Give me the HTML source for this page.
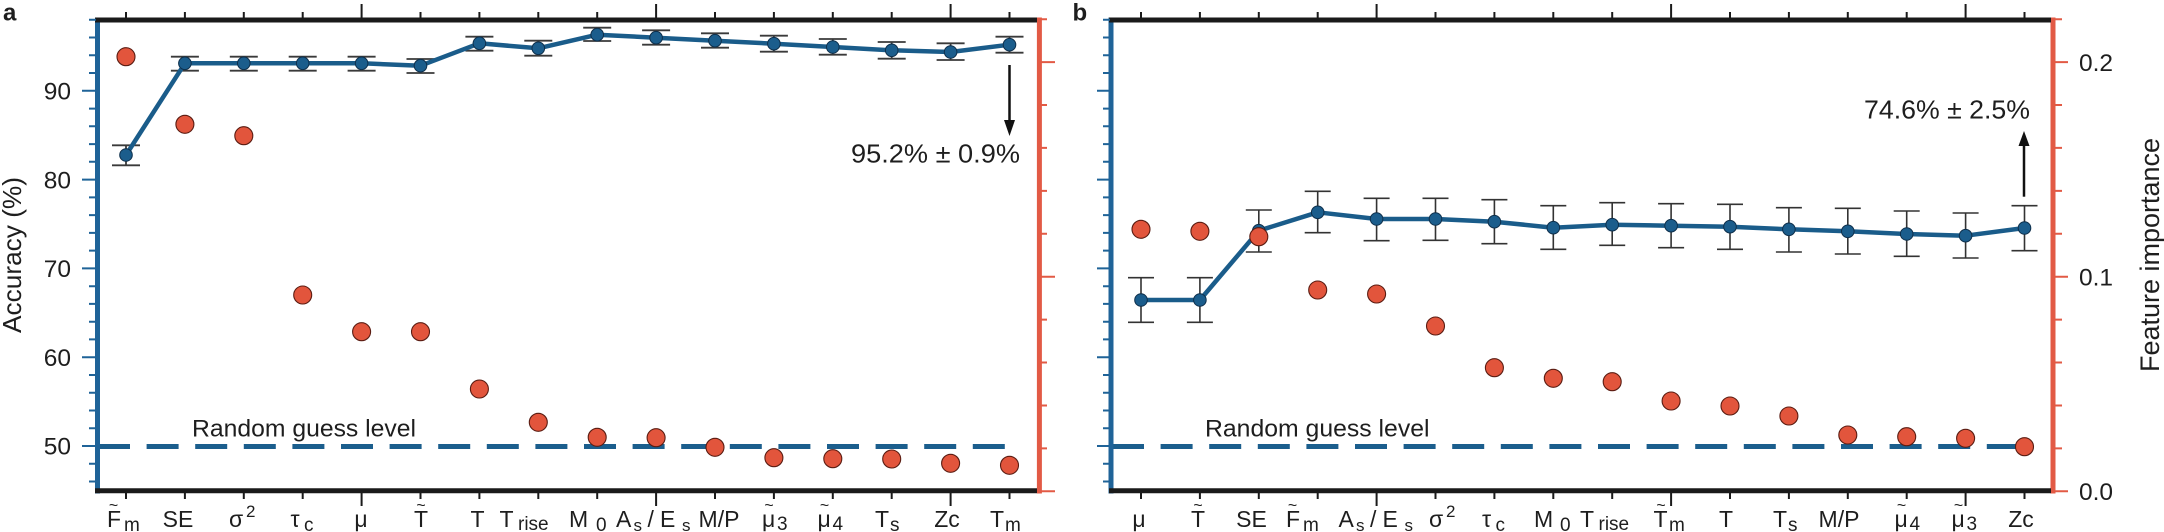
<!DOCTYPE html>
<html>
<head>
<meta charset="utf-8">
<style>
html,body{margin:0;padding:0;background:#fff;}
svg{display:block;}
text{font-family:"Liberation Sans",Arial,sans-serif;fill:#1e1e1e;}
</style>
</head>
<body>
<svg width="2164" height="532" viewBox="0 0 2164 532" xmlns="http://www.w3.org/2000/svg">
<rect width="2164" height="532" fill="#fff"/>

<!-- ================= PANEL A ================= -->
<text x="3" y="20.5" font-size="24" font-weight="bold">a</text>

<line x1="98" y1="446.5" x2="1006" y2="446.5" stroke="#1b5e8d" stroke-width="5" stroke-dasharray="32 16.6"/>
<text x="192" y="436.5" font-size="24" textLength="224" lengthAdjust="spacingAndGlyphs">Random guess level</text>

<line x1="97.5" y1="17.5" x2="97.5" y2="493.5" stroke="#1f6398" stroke-width="5"/>
<line x1="1039.4" y1="17.5" x2="1039.4" y2="493.5" stroke="#e25a45" stroke-width="5"/>
<line x1="95" y1="20" x2="1037" y2="20" stroke="#1a1a1a" stroke-width="5"/>
<line x1="95" y1="490.8" x2="1037" y2="490.8" stroke="#1a1a1a" stroke-width="5"/>

<path stroke="#1f6398" stroke-width="2" fill="none" d="
M89 481.5H96 M89 463.8H96 M82 446H96 M89 428.2H96 M89 410.5H96 M89 392.7H96 M89 375H96
M82 357.2H96 M89 339.4H96 M89 321.7H96 M89 303.9H96 M89 286.2H96 M82 268.4H96 M89 250.6H96
M89 232.9H96 M89 215.1H96 M89 197.4H96 M82 179.6H96 M89 161.8H96 M89 144.1H96 M89 126.3H96
M89 108.6H96 M82 90.8H96 M89 73H96 M89 55.3H96 M89 37.5H96 M89 19.8H96"/>
<path stroke="#e25a45" stroke-width="2" fill="none" d="
M1041 491.3H1055 M1041 448.4H1047 M1041 405.5H1047 M1041 362.5H1047 M1041 319.6H1047
M1041 276.7H1055 M1041 233.8H1047 M1041 190.9H1047 M1041 147.9H1047 M1041 105H1047
M1041 62.1H1055 M1041 19.2H1047"/>
<path stroke="#1a1a1a" stroke-width="2" fill="none" d="
M126 18V12 M184.9 18V12 M243.8 18V12 M302.7 18V12 M361.6 18V4 M420.5 18V12 M479.4 18V12
M538.3 18V12 M597.2 18V12 M656.1 18V4 M715 18V12 M773.9 18V12 M832.8 18V12 M891.7 18V12
M950.6 18V4 M1009.5 18V12"/>
<path stroke="#1a1a1a" stroke-width="2" fill="none" d="
M126 493V499 M184.9 493V499 M243.8 493V499 M302.7 493V499 M361.6 493V506 M420.5 493V499 M479.4 493V499
M538.3 493V499 M597.2 493V499 M656.1 493V506 M715 493V499 M773.9 493V499 M832.8 493V499 M891.7 493V499
M950.6 493V506 M1009.5 493V499"/>

<g font-size="24.5" text-anchor="end">
<text x="71" y="99.5">90</text>
<text x="71" y="188.3">80</text>
<text x="71" y="277.1">70</text>
<text x="71" y="365.9">60</text>
<text x="71" y="454.7">50</text>
</g>
<text transform="translate(21,255) rotate(-90)" font-size="26" text-anchor="middle" textLength="156" lengthAdjust="spacingAndGlyphs">Accuracy (%)</text>

<g stroke="#3a3a3a" stroke-width="1.8" fill="none">
<path d="M126 145.3V165.3 M112 145.3H140 M112 165.3H140"/>
<path d="M184.9 56.7V70.7 M170.9 56.7H198.9 M170.9 70.7H198.9"/>
<path d="M243.8 56.7V70.7 M229.8 56.7H257.8 M229.8 70.7H257.8"/>
<path d="M302.7 56.7V70.7 M288.7 56.7H316.7 M288.7 70.7H316.7"/>
<path d="M361.6 56.7V70.7 M347.6 56.7H375.6 M347.6 70.7H375.6"/>
<path d="M420.5 59V73 M406.5 59H434.5 M406.5 73H434.5"/>
<path d="M479.4 36.7V50.7 M465.4 36.7H493.4 M465.4 50.7H493.4"/>
<path d="M538.3 40.7V55.7 M524.3 40.7H552.3 M524.3 55.7H552.3"/>
<path d="M597.2 27.7V41 M583.2 27.7H611.2 M583.2 41H611.2"/>
<path d="M656.1 30.3V44.7 M642.1 30.3H670.1 M642.1 44.7H670.1"/>
<path d="M715 33.3V47.7 M701 33.3H729 M701 47.7H729"/>
<path d="M773.9 35.7V51.7 M759.9 35.7H787.9 M759.9 51.7H787.9"/>
<path d="M832.8 39V54.7 M818.8 39H846.8 M818.8 54.7H846.8"/>
<path d="M891.7 42V58.7 M877.7 42H905.7 M877.7 58.7H905.7"/>
<path d="M950.6 43.3V60 M936.6 43.3H964.6 M936.6 60H964.6"/>
<path d="M1009.5 36.7V52.7 M995.5 36.7H1023.5 M995.5 52.7H1023.5"/>
</g>

<polyline fill="none" stroke="#1a5c8a" stroke-width="4.5" stroke-linejoin="round" points="126,155 184.9,63.3 243.8,63.3 302.7,63.3 361.6,63.3 420.5,65.7 479.4,43.3 538.3,48.3 597.2,34.7 656.1,37.7 715,40.7 773.9,43.7 832.8,47 891.7,50.3 950.6,52 1009.5,44.7"/>
<g fill="#1b5d8c" stroke="#0e2f4b" stroke-width="1">
<circle cx="126" cy="155" r="6.3"/><circle cx="184.9" cy="63.3" r="6.3"/><circle cx="243.8" cy="63.3" r="6.3"/>
<circle cx="302.7" cy="63.3" r="6.3"/><circle cx="361.6" cy="63.3" r="6.3"/><circle cx="420.5" cy="65.7" r="6.3"/>
<circle cx="479.4" cy="43.3" r="6.3"/><circle cx="538.3" cy="48.3" r="6.3"/><circle cx="597.2" cy="34.7" r="6.3"/>
<circle cx="656.1" cy="37.7" r="6.3"/><circle cx="715" cy="40.7" r="6.3"/><circle cx="773.9" cy="43.7" r="6.3"/>
<circle cx="832.8" cy="47" r="6.3"/><circle cx="891.7" cy="50.3" r="6.3"/><circle cx="950.6" cy="52" r="6.3"/>
<circle cx="1009.5" cy="44.7" r="6.3"/>
</g>

<g fill="#e2553c" stroke="#5a1c12" stroke-width="1.1">
<circle cx="126" cy="56.7" r="9"/><circle cx="184.9" cy="124.3" r="9"/><circle cx="243.8" cy="135.7" r="9"/>
<circle cx="302.7" cy="295" r="9"/><circle cx="361.6" cy="331.7" r="9"/><circle cx="420.5" cy="331.7" r="9"/>
<circle cx="479.4" cy="389" r="9"/><circle cx="538.3" cy="422.3" r="9"/><circle cx="597.2" cy="437.3" r="9"/>
<circle cx="656.1" cy="437.7" r="9"/><circle cx="715" cy="447.3" r="9"/><circle cx="773.9" cy="457.7" r="9"/>
<circle cx="832.8" cy="458.7" r="9"/><circle cx="891.7" cy="459" r="9"/><circle cx="950.6" cy="463.3" r="9"/>
<circle cx="1009.5" cy="465.3" r="9"/>
</g>

<line x1="1009.5" y1="65" x2="1009.5" y2="122" stroke="#111" stroke-width="2.5"/>
<polygon points="1004,120 1015,120 1009.5,136" fill="#111"/>
<text x="851" y="162.5" font-size="26" textLength="169" lengthAdjust="spacingAndGlyphs">95.2% ± 0.9%</text>

<g font-size="23">
<text x="107" y="527">F</text><text x="124" y="531" font-size="19">m</text><text x="113.5" y="510.5" font-size="16" text-anchor="middle">~</text>
<text x="178" y="527" text-anchor="middle">SE</text>
<text x="229" y="527">σ</text><text x="246" y="517" font-size="17">2</text>
<text x="290.5" y="527">τ</text><text x="304" y="531" font-size="19">c</text>
<text x="361" y="527" text-anchor="middle">μ</text>
<text x="421" y="527" text-anchor="middle">T</text><text x="421" y="510.5" font-size="16" text-anchor="middle">~</text>
<text x="477.5" y="527" text-anchor="middle">T</text>
<text x="499.5" y="527">T</text><text x="518" y="530" font-size="19">rise</text>
<text x="569" y="527">M</text><text x="596" y="531" font-size="19">0</text>
<text x="616" y="527">A</text><text x="633.5" y="531" font-size="17">s</text><text x="647.5" y="527">/</text><text x="660" y="527">E</text><text x="682" y="531" font-size="17">s</text>
<text x="719" y="527" text-anchor="middle">M/P</text>
<text x="762" y="527">μ</text><text x="777" y="530" font-size="19">3</text><text x="769" y="510.5" font-size="16" text-anchor="middle">~</text>
<text x="817.5" y="527">μ</text><text x="832.5" y="530" font-size="19">4</text><text x="824.5" y="510.5" font-size="16" text-anchor="middle">~</text>
<text x="875" y="527">T</text><text x="890" y="531" font-size="19">s</text>
<text x="947" y="527" text-anchor="middle">Zc</text>
<text x="990" y="527">T</text><text x="1005" y="531" font-size="19">m</text>
</g>

<!-- ================= PANEL B ================= -->
<text x="1072.5" y="20.5" font-size="24" font-weight="bold">b</text>

<line x1="1112" y1="446.5" x2="2035" y2="446.5" stroke="#1b5e8d" stroke-width="5" stroke-dasharray="32 16.6"/>
<text x="1205" y="436.5" font-size="24" textLength="224.5" lengthAdjust="spacingAndGlyphs">Random guess level</text>

<line x1="1111" y1="17.5" x2="1111" y2="493.5" stroke="#1f6398" stroke-width="5"/>
<line x1="2053" y1="17.5" x2="2053" y2="493.5" stroke="#e25a45" stroke-width="5"/>
<line x1="1109" y1="20" x2="2051" y2="20" stroke="#1a1a1a" stroke-width="5"/>
<line x1="1109" y1="490.8" x2="2051" y2="490.8" stroke="#1a1a1a" stroke-width="5"/>

<path stroke="#1f6398" stroke-width="2" fill="none" d="
M1103 481.5H1110 M1103 463.8H1110 M1097 446H1110 M1103 428.2H1110 M1103 410.5H1110 M1103 392.7H1110 M1103 375H1110
M1097 357.2H1110 M1103 339.4H1110 M1103 321.7H1110 M1103 303.9H1110 M1103 286.2H1110 M1097 268.4H1110 M1103 250.6H1110
M1103 232.9H1110 M1103 215.1H1110 M1103 197.4H1110 M1097 179.6H1110 M1103 161.8H1110 M1103 144.1H1110 M1103 126.3H1110
M1103 108.6H1110 M1097 90.8H1110 M1103 73H1110 M1103 55.3H1110 M1103 37.5H1110 M1103 19.8H1110"/>
<path stroke="#e25a45" stroke-width="2" fill="none" d="
M2055 491.3H2068 M2055 448.4H2062 M2055 405.5H2062 M2055 362.5H2062 M2055 319.6H2062
M2055 276.7H2068 M2055 233.8H2062 M2055 190.9H2062 M2055 147.9H2062 M2055 105H2062
M2055 62.1H2068 M2055 19.2H2062"/>
<path stroke="#1a1a1a" stroke-width="2" fill="none" d="
M1141 18V12 M1199.9 18V12 M1258.8 18V12 M1317.7 18V12 M1376.6 18V4 M1435.5 18V12 M1494.4 18V12
M1553.3 18V12 M1612.2 18V12 M1671.1 18V4 M1730 18V12 M1788.9 18V12 M1847.8 18V12 M1906.7 18V12
M1965.6 18V4 M2024.5 18V12"/>
<path stroke="#1a1a1a" stroke-width="2" fill="none" d="
M1141 493V499 M1199.9 493V499 M1258.8 493V499 M1317.7 493V499 M1376.6 493V506 M1435.5 493V499 M1494.4 493V499
M1553.3 493V499 M1612.2 493V499 M1671.1 493V506 M1730 493V499 M1788.9 493V499 M1847.8 493V499 M1906.7 493V499
M1965.6 493V506 M2024.5 493V499"/>

<g font-size="24.5">
<text x="2079" y="70.8">0.2</text>
<text x="2079" y="285.4">0.1</text>
<text x="2079" y="500">0.0</text>
</g>
<text transform="translate(2159,255) rotate(-90)" font-size="27" text-anchor="middle" textLength="234" lengthAdjust="spacingAndGlyphs">Feature importance</text>

<g stroke="#333" stroke-width="1.6" fill="none">
<path d="M1141 277.7V322.3 M1128 277.7H1154 M1128 322.3H1154"/>
<path d="M1199.9 277.7V322.3 M1186.9 277.7H1212.9 M1186.9 322.3H1212.9"/>
<path d="M1258.8 210V252 M1245.8 210H1271.8 M1245.8 252H1271.8"/>
<path d="M1317.7 191.3V232.7 M1304.7 191.3H1330.7 M1304.7 232.7H1330.7"/>
<path d="M1376.6 198.3V240.7 M1363.6 198.3H1389.6 M1363.6 240.7H1389.6"/>
<path d="M1435.5 198.3V240.3 M1422.5 198.3H1448.5 M1422.5 240.3H1448.5"/>
<path d="M1494.4 199.7V243.7 M1481.4 199.7H1507.4 M1481.4 243.7H1507.4"/>
<path d="M1553.3 205.7V249.3 M1540.3 205.7H1566.3 M1540.3 249.3H1566.3"/>
<path d="M1612.2 202.7V245.3 M1599.2 202.7H1625.2 M1599.2 245.3H1625.2"/>
<path d="M1671.1 203.7V247.7 M1658.1 203.7H1684.1 M1658.1 247.7H1684.1"/>
<path d="M1730 204.3V249.3 M1717 204.3H1743 M1717 249.3H1743"/>
<path d="M1788.9 207.7V252 M1775.9 207.7H1801.9 M1775.9 252H1801.9"/>
<path d="M1847.8 208.3V254 M1834.8 208.3H1860.8 M1834.8 254H1860.8"/>
<path d="M1906.7 211V256.3 M1893.7 211H1919.7 M1893.7 256.3H1919.7"/>
<path d="M1965.6 213V258 M1952.6 213H1978.6 M1952.6 258H1978.6"/>
<path d="M2024.5 205.7V250.7 M2011.5 205.7H2037.5 M2011.5 250.7H2037.5"/>
</g>

<polyline fill="none" stroke="#1a5c8a" stroke-width="4.5" stroke-linejoin="round" points="1141,300 1199.9,300 1258.8,230.7 1317.7,212.3 1376.6,219 1435.5,219 1494.4,221.7 1553.3,227.7 1612.2,224.7 1671.1,225.7 1730,226.7 1788.9,229.3 1847.8,231.3 1906.7,234 1965.6,235.7 2024.5,228"/>
<g fill="#1b5d8c" stroke="#0e2f4b" stroke-width="1">
<circle cx="1141" cy="300" r="6.3"/><circle cx="1199.9" cy="300" r="6.3"/><circle cx="1258.8" cy="230.7" r="6.3"/>
<circle cx="1317.7" cy="212.3" r="6.3"/><circle cx="1376.6" cy="219" r="6.3"/><circle cx="1435.5" cy="219" r="6.3"/>
<circle cx="1494.4" cy="221.7" r="6.3"/><circle cx="1553.3" cy="227.7" r="6.3"/><circle cx="1612.2" cy="224.7" r="6.3"/>
<circle cx="1671.1" cy="225.7" r="6.3"/><circle cx="1730" cy="226.7" r="6.3"/><circle cx="1788.9" cy="229.3" r="6.3"/>
<circle cx="1847.8" cy="231.3" r="6.3"/><circle cx="1906.7" cy="234" r="6.3"/><circle cx="1965.6" cy="235.7" r="6.3"/>
<circle cx="2024.5" cy="228" r="6.3"/>
</g>

<g fill="#e2553c" stroke="#5a1c12" stroke-width="1.1">
<circle cx="1141" cy="229.3" r="9"/><circle cx="1199.9" cy="231.3" r="9"/><circle cx="1258.8" cy="236.7" r="9"/>
<circle cx="1317.7" cy="290" r="9"/><circle cx="1376.6" cy="294" r="9"/><circle cx="1435.5" cy="326" r="9"/>
<circle cx="1494.4" cy="367.7" r="9"/><circle cx="1553.3" cy="378.3" r="9"/><circle cx="1612.2" cy="381.7" r="9"/>
<circle cx="1671.1" cy="401" r="9"/><circle cx="1730" cy="406" r="9"/><circle cx="1788.9" cy="416" r="9"/>
<circle cx="1847.8" cy="435" r="9"/><circle cx="1906.7" cy="436.7" r="9"/><circle cx="1965.6" cy="438.3" r="9"/>
<circle cx="2024.5" cy="446.7" r="9"/>
</g>

<line x1="2024" y1="196.7" x2="2024" y2="144" stroke="#111" stroke-width="2.5"/>
<polygon points="2018.5,146 2029.5,146 2024,131" fill="#111"/>
<text x="1864" y="118.3" font-size="26" textLength="166" lengthAdjust="spacingAndGlyphs">74.6% ± 2.5%</text>

<g font-size="23">
<text x="1139" y="527" text-anchor="middle">μ</text>
<text x="1198" y="527" text-anchor="middle">T</text><text x="1198" y="510.5" font-size="16" text-anchor="middle">~</text>
<text x="1251.5" y="527" text-anchor="middle">SE</text>
<text x="1286" y="527">F</text><text x="1303" y="531" font-size="19">m</text><text x="1292.5" y="510.5" font-size="16" text-anchor="middle">~</text>
<text x="1338.5" y="527">A</text><text x="1356" y="531" font-size="17">s</text><text x="1370" y="527">/</text><text x="1382.5" y="527">E</text><text x="1404.5" y="531" font-size="17">s</text>
<text x="1429" y="527">σ</text><text x="1446" y="517" font-size="17">2</text>
<text x="1482" y="527">τ</text><text x="1495.5" y="531" font-size="19">c</text>
<text x="1534" y="527">M</text><text x="1560" y="531" font-size="19">0</text>
<text x="1580" y="527">T</text><text x="1598.5" y="530" font-size="19">rise</text>
<text x="1653.5" y="527">T</text><text x="1669" y="531" font-size="19">m</text><text x="1661" y="510.5" font-size="16" text-anchor="middle">~</text>
<text x="1726" y="527" text-anchor="middle">T</text>
<text x="1773" y="527">T</text><text x="1788" y="531" font-size="19">s</text>
<text x="1839" y="527" text-anchor="middle">M/P</text>
<text x="1894.5" y="527">μ</text><text x="1909.5" y="530" font-size="19">4</text><text x="1901.5" y="510.5" font-size="16" text-anchor="middle">~</text>
<text x="1951.5" y="527">μ</text><text x="1966.5" y="530" font-size="19">3</text><text x="1958.5" y="510.5" font-size="16" text-anchor="middle">~</text>
<text x="2021" y="527" text-anchor="middle">Zc</text>
</g>
</svg>
</body>
</html>
